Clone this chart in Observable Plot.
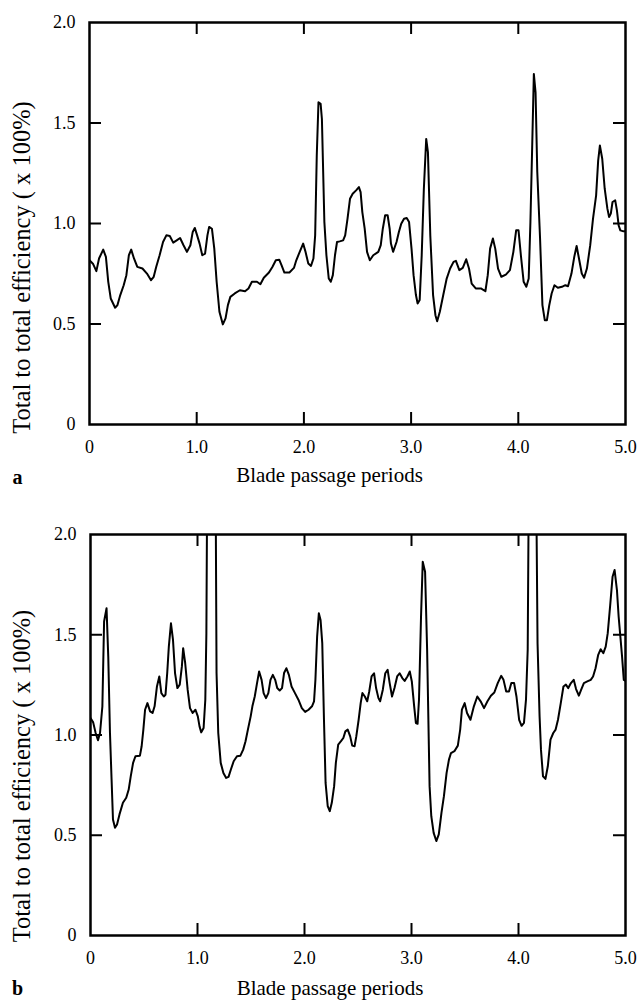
<!DOCTYPE html>
<html><head><meta charset="utf-8">
<script src="https://cdn.jsdelivr.net/npm/d3@7"></script>
<script src="https://cdn.jsdelivr.net/npm/@observablehq/plot@0.6"></script>
<style>
html,body{margin:0;padding:0;background:#fff;overflow:hidden;}
#chart svg{display:block;}
</style></head><body><div id="chart"></div>
<script>
// Panel a
const periodsA = [
0,0.032,0.064,0.089,0.128,0.153,0.175,0.198,0.239,0.261,
0.287,0.319,0.344,0.367,0.389,0.415,0.446,0.494,0.536,0.574,
0.599,0.622,0.654,0.686,0.717,0.749,0.781,0.813,0.845,0.877,
0.909,0.941,0.963,0.982,1.004,1.027,1.052,1.078,1.100,1.116,
1.142,1.164,1.186,1.212,1.244,1.269,1.291,1.314,1.355,1.403,
1.451,1.483,1.515,1.562,1.594,1.626,1.674,1.706,1.738,1.770,
1.792,1.818,1.865,1.907,1.929,1.961,1.993,2.015,2.041,2.066,
2.089,2.105,2.120,2.136,2.156,2.168,2.191,2.210,2.232,2.251,
2.270,2.290,2.309,2.334,2.366,2.385,2.407,2.430,2.455,2.487,
2.513,2.529,2.545,2.567,2.589,2.615,2.647,2.694,2.717,2.736,
2.758,2.781,2.800,2.812,2.832,2.864,2.886,2.908,2.934,2.959,
2.981,3.004,3.023,3.045,3.061,3.080,3.099,3.119,3.141,3.157,
3.179,3.205,3.227,3.243,3.268,3.300,3.332,3.364,3.396,3.418,
3.450,3.482,3.514,3.540,3.565,3.603,3.651,3.693,3.715,3.737,
3.763,3.785,3.811,3.842,3.884,3.922,3.954,3.980,4.002,4.024,
4.050,4.075,4.097,4.113,4.129,4.145,4.161,4.177,4.203,4.225,
4.247,4.267,4.289,4.311,4.337,4.369,4.407,4.439,4.464,4.496,
4.522,4.544,4.566,4.592,4.614,4.640,4.671,4.697,4.726,4.745,
4.761,4.783,4.806,4.831,4.847,4.863,4.879,4.904,4.920,4.936,
4.952,4.981,5.0];
const efficiencyA = [
0.817,0.800,0.763,0.826,0.870,0.834,0.710,0.627,0.581,0.594,
0.644,0.693,0.743,0.842,0.870,0.826,0.784,0.776,0.751,0.718,
0.735,0.784,0.842,0.908,0.941,0.938,0.905,0.916,0.928,0.892,
0.859,0.892,0.958,0.978,0.941,0.900,0.842,0.850,0.941,0.983,
0.974,0.875,0.710,0.561,0.498,0.528,0.594,0.635,0.652,0.668,
0.663,0.677,0.710,0.710,0.698,0.730,0.756,0.784,0.817,0.820,
0.792,0.756,0.756,0.779,0.817,0.859,0.900,0.859,0.801,0.789,
0.826,0.941,1.338,1.603,1.595,1.520,1.007,0.842,0.726,0.710,
0.743,0.842,0.908,0.911,0.916,0.941,1.024,1.123,1.148,1.165,
1.181,1.156,1.057,0.974,0.859,0.817,0.842,0.859,0.892,0.974,
1.041,1.041,0.974,0.900,0.859,0.908,0.958,0.999,1.024,1.027,
1.007,0.875,0.743,0.644,0.602,0.619,0.842,1.173,1.421,1.355,
0.941,0.644,0.544,0.514,0.561,0.644,0.726,0.776,0.809,0.814,
0.768,0.779,0.822,0.776,0.701,0.677,0.677,0.663,0.743,0.875,
0.925,0.875,0.776,0.735,0.746,0.768,0.859,0.966,0.966,0.842,
0.710,0.685,0.726,1.007,1.371,1.744,1.653,1.256,0.925,0.594,
0.519,0.519,0.594,0.652,0.693,0.680,0.685,0.693,0.688,0.751,
0.834,0.888,0.826,0.751,0.730,0.776,0.892,1.024,1.140,1.313,
1.388,1.322,1.173,1.074,1.032,1.049,1.107,1.115,1.065,0.991,
0.966,0.961,0.961];

// Panel b (values above 2.0 run off the top of the frame)
const periodsB = [
0,0.025,0.048,0.070,0.089,0.111,0.127,0.150,0.166,0.182,
0.197,0.210,0.229,0.248,0.271,0.303,0.334,0.357,0.376,0.398,
0.420,0.462,0.478,0.494,0.510,0.532,0.557,0.580,0.599,0.621,
0.643,0.662,0.685,0.701,0.717,0.732,0.752,0.771,0.790,0.812,
0.834,0.854,0.866,0.885,0.908,0.930,0.955,0.981,1.003,1.019,
1.035,1.057,1.073,1.083,1.092,1.168,1.178,1.194,1.217,1.242,
1.268,1.290,1.312,1.338,1.369,1.401,1.427,1.449,1.471,1.497,
1.513,1.535,1.554,1.576,1.599,1.618,1.640,1.662,1.682,1.704,
1.726,1.745,1.768,1.790,1.809,1.831,1.854,1.879,1.911,1.943,
1.975,2.006,2.038,2.070,2.089,2.102,2.118,2.134,2.150,2.166,
2.182,2.197,2.217,2.236,2.255,2.277,2.293,2.315,2.341,2.363,
2.382,2.404,2.427,2.446,2.468,2.484,2.506,2.525,2.541,2.564,
2.586,2.605,2.627,2.650,2.669,2.691,2.707,2.732,2.755,2.777,
2.796,2.818,2.841,2.866,2.889,2.914,2.936,2.962,2.984,3.003,
3.025,3.041,3.057,3.070,3.089,3.105,3.127,3.146,3.169,3.185,
3.207,3.232,3.255,3.280,3.303,3.328,3.350,3.369,3.401,3.433,
3.455,3.471,3.497,3.519,3.551,3.583,3.615,3.646,3.678,3.710,
3.742,3.774,3.806,3.838,3.860,3.885,3.911,3.933,3.959,3.981,
4.006,4.029,4.051,4.070,4.086,4.098,4.163,4.178,4.197,4.210,
4.229,4.252,4.274,4.299,4.325,4.347,4.369,4.395,4.420,4.443,
4.465,4.490,4.516,4.538,4.564,4.586,4.611,4.643,4.675,4.697,
4.720,4.745,4.768,4.793,4.815,4.834,4.857,4.879,4.898,4.920,
4.936,4.952,4.968,4.984,5.0];
const efficiencyB = [
1.085,1.063,1.010,0.974,1.010,1.143,1.566,1.632,1.391,1.010,
0.778,0.579,0.537,0.554,0.604,0.662,0.687,0.728,0.794,0.861,
0.894,0.897,0.944,1.027,1.126,1.159,1.118,1.110,1.143,1.242,
1.292,1.209,1.192,1.201,1.309,1.441,1.557,1.474,1.309,1.234,
1.251,1.342,1.433,1.358,1.226,1.134,1.110,1.126,1.093,1.043,
1.013,1.035,1.176,1.508,2.400,2.400,1.309,1.010,0.861,0.811,
0.786,0.791,0.828,0.869,0.894,0.897,0.927,0.969,1.027,1.093,
1.143,1.192,1.251,1.317,1.275,1.209,1.184,1.209,1.275,1.300,
1.275,1.234,1.222,1.234,1.309,1.333,1.300,1.242,1.209,1.176,
1.134,1.115,1.126,1.143,1.168,1.275,1.491,1.607,1.574,1.458,
1.076,0.761,0.645,0.620,0.662,0.745,0.861,0.952,0.969,0.985,
1.018,1.027,0.993,0.947,0.944,0.993,1.076,1.159,1.209,1.192,
1.168,1.217,1.292,1.308,1.234,1.184,1.168,1.226,1.308,1.325,
1.259,1.192,1.234,1.292,1.308,1.284,1.270,1.292,1.317,1.267,
1.143,1.060,1.056,1.176,1.590,1.864,1.814,1.425,0.745,0.595,
0.512,0.471,0.504,0.612,0.695,0.811,0.877,0.910,0.919,0.947,
1.027,1.126,1.159,1.110,1.076,1.143,1.192,1.168,1.134,1.168,
1.196,1.212,1.259,1.295,1.275,1.217,1.217,1.259,1.259,1.192,
1.076,1.046,1.060,1.176,1.425,2.400,2.400,1.458,1.093,0.927,
0.794,0.781,0.844,0.977,1.010,1.027,1.076,1.159,1.242,1.251,
1.234,1.259,1.275,1.229,1.196,1.226,1.259,1.267,1.275,1.292,
1.333,1.400,1.428,1.408,1.441,1.508,1.648,1.789,1.823,1.723,
1.590,1.491,1.391,1.275,1.270];

// Axes & labels
const xTickValues = [0, 1, 2, 3, 4, 5];
const xTickLabels = ["0", "1.0", "2.0", "3.0", "4.0", "5.0"];
const yTickValues = [0, 0.5, 1, 1.5, 2];
const yTickLabels = ["0", "0.5", "1.0", "1.5", "2.0"];
const innerXTicks = [1, 2, 3, 4];
const innerYTicks = [0.5, 1, 1.5];
const xTitle = "Blade passage periods";
const yTitle = "Total to total efficiency ( x 100%)";
const panelLetters = ["a", "b"];

const FONT = "'Liberation Serif', 'Times New Roman', Times, serif";
const W = 642, MR = 17, TICK = 12;
const X_DOMAIN = [0, 5], Y_DOMAIN = [0, 2];

function panel(xs, ys, letter, m) {
  const data = xs.map((x, i) => ({x, y: ys[i]}));
  const innerH = m.height - m.top - m.bottom;
  const innerW = W - m.left - MR;
  // tick length expressed in data units of each scale
  const ty = TICK / innerH * (Y_DOMAIN[1] - Y_DOMAIN[0]);
  const tx = TICK / innerW * (X_DOMAIN[1] - X_DOMAIN[0]);
  const tickStyle = {stroke: "black", strokeWidth: 2};
  return Plot.plot({
    width: W,
    height: m.height,
    marginTop: m.top,
    marginBottom: m.bottom,
    marginLeft: m.left,
    marginRight: MR,
    style: {fontFamily: FONT, fontSize: "18px", color: "black", background: "white"},
    x: {domain: X_DOMAIN, axis: null},
    y: {domain: Y_DOMAIN, axis: null},
    marks: [
      Plot.line(data, {x: "x", y: "y", stroke: "black", strokeWidth: 2, clip: true, strokeLinejoin: "round"}),
      // inward ticks on all four sides
      Plot.ruleX(innerXTicks, {x: (d) => d, y1: Y_DOMAIN[0], y2: Y_DOMAIN[0] + ty, ...tickStyle}),
      Plot.ruleX(innerXTicks, {x: (d) => d, y1: Y_DOMAIN[1] - ty, y2: Y_DOMAIN[1], ...tickStyle}),
      Plot.ruleY(innerYTicks, {y: (d) => d, x1: X_DOMAIN[0], x2: X_DOMAIN[0] + tx, ...tickStyle}),
      Plot.ruleY(innerYTicks, {y: (d) => d, x1: X_DOMAIN[1] - tx, x2: X_DOMAIN[1], ...tickStyle}),
      Plot.frame({stroke: "black", strokeWidth: 2.5}),
      // tick labels
      Plot.axisX(xTickValues, {anchor: "bottom", tickSize: 0, tickPadding: 16, fontSize: 18, label: null,
        tickFormat: (d) => xTickLabels[xTickValues.indexOf(d)]}),
      Plot.axisY(yTickValues, {anchor: "left", tickSize: 0, tickPadding: 14, fontSize: 18, label: null,
        tickFormat: (d) => yTickLabels[yTickValues.indexOf(d)]}),
      Plot.text([xTitle], {text: (d) => d, frameAnchor: "bottom", dx: -28, dy: m.xTitleDy, fontSize: 21, lineAnchor: "middle"}),
      Plot.text([yTitle], {text: (d) => d, frameAnchor: "left", rotate: -90, dx: 22 - m.left, dy: m.yTitleDy, fontSize: 24.5, lineAnchor: "middle", textAnchor: "middle"}),
      Plot.text([letter], {text: (d) => d, frameAnchor: "bottom-left", dx: 17 - m.left, dy: m.letterDy, fontSize: 20, fontWeight: "bold", lineAnchor: "middle", textAnchor: "middle"})
    ]
  });
}

const chart = document.getElementById("chart");
chart.append(panel(periodsA, efficiencyA, panelLetters[0], {height: 500, top: 22, bottom: 76, left: 89, xTitleDy: 51, yTitleDy: 44, letterDy: 53}));
chart.append(panel(periodsB, efficiencyB, panelLetters[1], {height: 504, top: 34, bottom: 69, left: 90, xTitleDy: 53, yTitleDy: 41, letterDy: 53}));
</script>
</body></html>
